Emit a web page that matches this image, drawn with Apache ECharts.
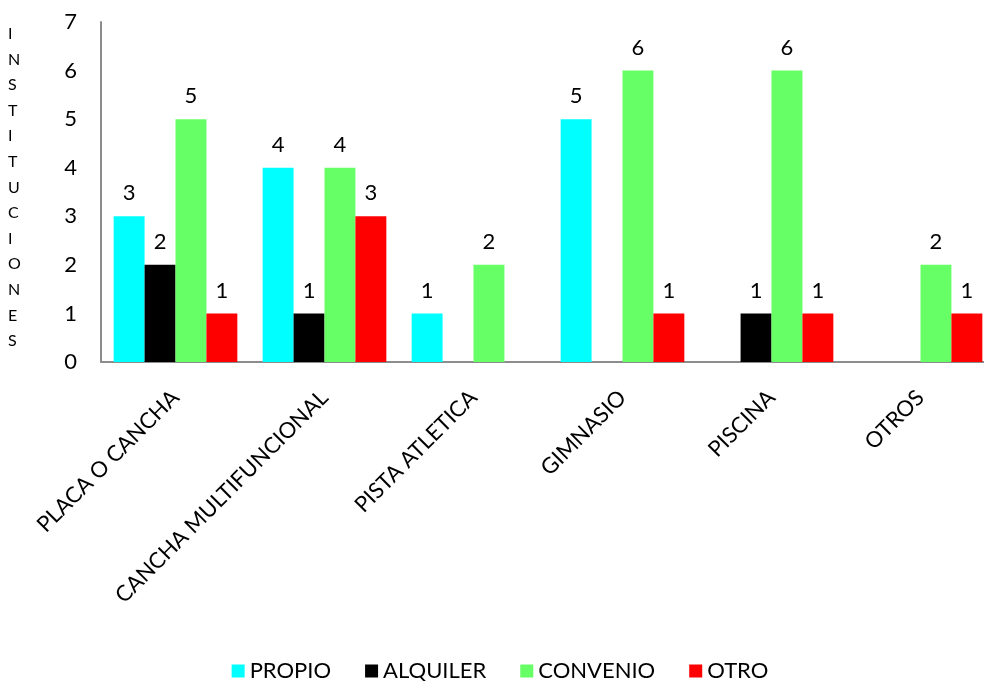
<!DOCTYPE html>
<html><head><meta charset="utf-8">
<script src="https://cdn.jsdelivr.net/npm/echarts@6/dist/echarts.min.js"></script>
<style>html,body{margin:0;padding:0;background:#fff;overflow:hidden}#c{width:1000px;height:681px}</style>
</head><body><div id="c"></div>
<script>
var categories = ['PLACA O CANCHA','CANCHA MULTIFUNCIONAL','PISTA ATLETICA','GIMNASIO','PISCINA','OTROS'];
var propio   = [3, 4, 1, 5, null, null];
var alquiler = [2, 1, null, null, 1, null];
var convenio = [5, 4, 2, 6, 6, 2];
var otro     = [1, 3, null, 1, 1, 1];
var yTitle = 'INSTITUCIONES';

var font = 'Lato';
var chart = echarts.init(document.getElementById('c'));
function s(name, data, color){
  return {name:name, type:'bar', data:data, barGap:'0%', barCategoryGap:'17%',
    itemStyle:{color:color},
    label:{show:true, position:'top', distance:12, color:'#000', fontSize:22, fontFamily:font},
    animation:false};
}
chart.setOption({
  animation:false,
  textStyle:{fontFamily:font},
  grid:{left:101, top:22, height:340, width:894},
  legend:{top:655, left:'center', itemWidth:13, itemHeight:13, itemGap:34, icon:'rect',
    textStyle:{fontSize:22, color:'#000', fontFamily:font},
    data:['PROPIO','ALQUILER','CONVENIO','OTRO']},
  xAxis:{type:'category', data:categories,
    axisLine:{lineStyle:{color:'#8c8c8c', width:2}}, axisTick:{show:false},
    axisLabel:{rotate:45, fontSize:22, color:'#000', margin:32, interval:0, fontFamily:font}},
  yAxis:{type:'value', min:0, max:7, interval:1,
    axisLine:{show:true, lineStyle:{color:'#8c8c8c', width:2}}, axisTick:{show:false},
    splitLine:{show:false},
    axisLabel:{fontSize:22, color:'#000', margin:24, fontFamily:font}},
  graphic:[{type:'text', left:8, top:21,
    style:{text:yTitle.split('').join('\n'), fontSize:16, lineHeight:25.6, fill:'#000', fontFamily:font, align:'center'}}],
  series:[s('PROPIO',propio,'#00FFFF'), s('ALQUILER',alquiler,'#000000'), s('CONVENIO',convenio,'#66FF66'), s('OTRO',otro,'#FF0000')]
});
</script></body></html>
